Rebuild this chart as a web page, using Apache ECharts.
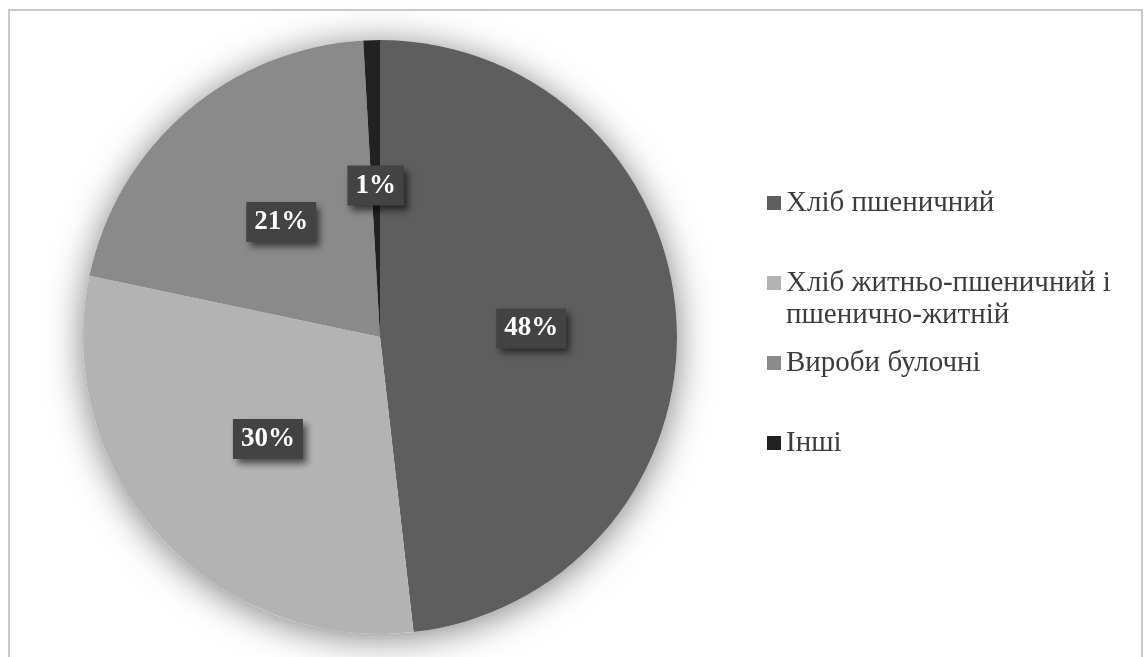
<!DOCTYPE html>
<html>
<head>
<meta charset="utf-8">
<script src="https://cdn.jsdelivr.net/npm/echarts@6/dist/echarts.min.js"></script>
<style>
html,body{margin:0;padding:0;background:#fff;}
#chart{width:1144px;height:657px;}
</style>
</head>
<body>
<div id="chart"></div>
<script>
// ---- Data ----
var categories = ['Хліб пшеничний', 'Хліб житньо-пшеничний і пшенично-житній', 'Вироби булочні', 'Інші'];
var values = [48.2, 30.1, 20.8, 0.9];
var colors = ['#5e5e5e', '#b3b3b3', '#8a8a8a', '#222222'];

// ---- Layout ----
var pieCenter = [380, 337];
var pieRadius = 297;
var legendTops = [184, 264, 344, 424];

var chart = echarts.init(document.getElementById('chart'), null, {renderer: 'canvas'});

var legends = categories.map(function (name, i) {
  var twoLine = name.indexOf(' і ') >= 0;
  return {
    data: [name],
    orient: 'vertical',
    left: 767,
    top: legendTops[i],
    itemWidth: 14,
    itemHeight: twoLine ? 46 : 14,
    icon: twoLine ? 'path://M0,0h14v14h-14zM0,46' : 'rect',
    selectedMode: false,
    padding: 0,
    formatter: function (n) { return n.replace(' і ', ' і\n'); },
    textStyle: {
      fontFamily: 'Liberation Serif',
      fontSize: 29,
      lineHeight: 32,
      padding: [6, 0, 0, 0],
      color: '#3c3c3c'
    }
  };
});

chart.setOption({
  backgroundColor: '#ffffff',
  animation: false,
  legend: legends,
  graphic: [{
    type: 'rect',
    shape: {x: 9, y: 10, width: 1133, height: 700},
    style: {fill: 'none', stroke: '#c9c9c9', lineWidth: 2},
    silent: true,
    z: 100
  }],
  series: [
    {
      // soft shadow underneath the pie
      type: 'pie',
      name: 'shadow',
      center: pieCenter,
      radius: pieRadius,
      silent: true,
      z: 1,
      label: {show: false},
      labelLine: {show: false},
      itemStyle: {
        color: '#ffffff',
        shadowBlur: 36,
        shadowColor: 'rgba(0,0,0,0.5)',
        shadowOffsetY: 4
      },
      data: [{value: 1, name: '__shadow'}]
    },
    {
      type: 'pie',
      name: 'main',
      center: pieCenter,
      radius: pieRadius,
      startAngle: 90,
      clockwise: true,
      percentPrecision: 0,
      z: 2,
      emphasis: {disabled: true},
      labelLine: {show: false},
      label: {
        show: true,
        position: 'inside',
        formatter: '{d}%',
        color: '#ffffff',
        fontFamily: 'Liberation Serif',
        fontWeight: 'bold',
        fontSize: 27,
        lineHeight: 28,
        padding: [6, 8, 6, 8],
        backgroundColor: '#434343',
        shadowColor: 'rgba(0,0,0,0.6)',
        shadowBlur: 7,
        shadowOffsetX: 4,
        shadowOffsetY: 5
      },
      itemStyle: {borderWidth: 0},
      data: categories.map(function (n, i) {
        return {name: n, value: values[i], itemStyle: {color: colors[i]}};
      })
    }
  ]
});
</script>
</body>
</html>
